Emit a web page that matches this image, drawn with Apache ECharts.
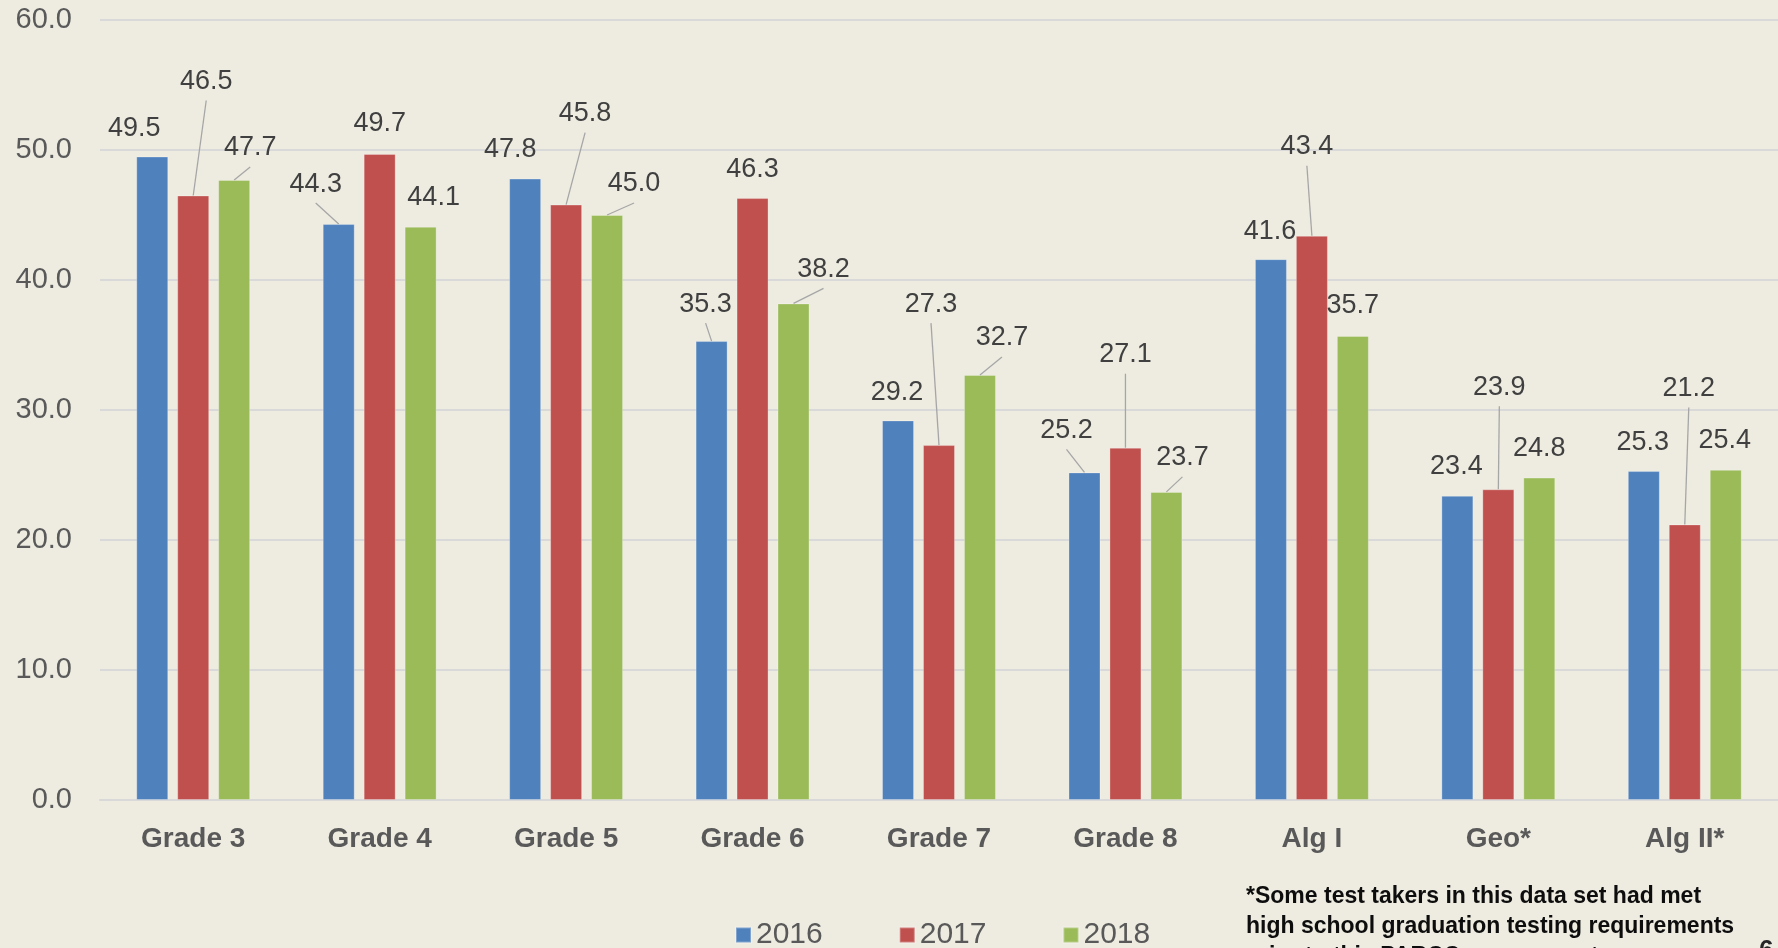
<!DOCTYPE html>
<html>
<head>
<meta charset="utf-8">
<script src="https://cdn.jsdelivr.net/npm/echarts@6/dist/echarts.min.js"></script>
<style>
  html, body { margin: 0; padding: 0; background: #EEECE1; }
  #chart { width: 1778px; height: 948px; }
</style>
</head>
<body>
<div id="chart"></div>
<script>
// ---- data ----
const categories = ['Grade 3', 'Grade 4', 'Grade 5', 'Grade 6', 'Grade 7', 'Grade 8', 'Alg I', 'Geo*', 'Alg II*'];
const seriesNames = ['2016', '2017', '2018'];
const values2016 = [49.5, 44.3, 47.8, 35.3, 29.2, 25.2, 41.6, 23.4, 25.3];
const values2017 = [46.5, 49.7, 45.8, 46.3, 27.3, 27.1, 43.4, 23.9, 21.2];
const values2018 = [47.7, 44.1, 45.0, 38.2, 32.7, 23.7, 35.7, 24.8, 25.4];
const yTicks = [0, 10, 20, 30, 40, 50, 60];
const footnoteLines = [
  '*Some test takers in this data set had met',
  'high school graduation testing requirements',
  'prior to this PARCC assessment.'
];

// ---- styling (label placement, as in the original slide) ----
const colors = ['#4F81BD', '#C0504D', '#9BBB59'];
const BAR_W = 32;
const BAR_GAP = 0.28;
// label centre offset from bar top-centre [dx, dy]
const labelOffsets = [
  [[-18,-28],[-23,-40],[-15,-29],[-6,-37],[-1,-28],[-18,-42],[-1,-28],[-1,-29],[-1,-29]],
  [[13,-114],[0,-30],[19,-91],[0,-29],[-8,-141],[0,-93],[-5,-89],[1,-102],[4,-136]],
  [[16,-32],[13,-29],[27,-31],[30,-34],[22,-37],[16,-34],[0,-30],[0,-29],[-1,-29]]
];
const leaderShown = [
  [false, true, false, true, false, true, false, false, false],
  [true, false, true, false, true, true, true, true, true],
  [true, false, true, true, true, true, false, false, false]
];

const allValues = [values2016, values2017, values2018];
const font = '"Liberation Sans", Arial, sans-serif';

const barSeries = allValues.map((vals, s) => ({
  name: seriesNames[s],
  type: 'bar',
  barWidth: BAR_W,
  barGap: (BAR_GAP * 100) + '%',
  z: 2,
  itemStyle: { color: colors[s], borderColor: 'rgba(255,255,255,0.28)', borderWidth: 1 },
  data: vals,
  label: {
    show: true,
    position: 'top',
    fontFamily: font,
    fontSize: 27,
    color: '#404040',
    formatter: p => p.value.toFixed(1)
  },
  labelLayout: function (p) {
    const off = labelOffsets[s][p.dataIndex];
    return {
      x: p.rect.x + p.rect.width / 2 + off[0],
      y: p.rect.y + off[1],
      align: 'center',
      verticalAlign: 'middle'
    };
  }
}));

// leader lines: from bar top-centre to just under the moved label
const leaderSeries = allValues.map((vals, s) => ({
  type: 'custom',
  silent: true,
  z: 5,
  data: vals.map((v, i) => [i, v]),
  renderItem: function (params, api) {
    const i = api.value(0);
    if (!leaderShown[s][i]) return null;
    const p = api.coord([i, api.value(1)]);
    const bx = p[0] + (s - 1) * BAR_W * (1 + BAR_GAP);
    const off = labelOffsets[s][i];
    return {
      type: 'line',
      shape: { x1: bx, y1: p[1], x2: bx + off[0], y2: p[1] + off[1] + 19 },
      style: { stroke: '#A6A6A6', lineWidth: 1.3 }
    };
  }
}));

const chart = echarts.init(document.getElementById('chart'), null, { renderer: 'canvas' });
chart.setOption({
  backgroundColor: '#EEECE1',
  animation: false,
  grid: { left: 100, right: 0, top: 20, bottom: 148, containLabel: false },
  legend: {
    data: seriesNames,
    left: 730,
    top: 915,
    icon: 'rect',
    itemWidth: 15,
    itemHeight: 15,
    itemGap: 76,
    textStyle: { fontFamily: font, fontSize: 30, color: '#595959' }
  },
  xAxis: {
    type: 'category',
    data: categories,
    axisLine: { show: true, lineStyle: { color: '#D9D9D9', width: 2 } },
    axisTick: { show: false },
    axisLabel: {
      margin: 25,
      fontFamily: font,
      fontWeight: 'bold',
      fontSize: 28,
      color: '#595959'
    }
  },
  yAxis: {
    type: 'value',
    min: yTicks[0],
    max: yTicks[yTicks.length - 1],
    interval: yTicks[1] - yTicks[0],
    axisLine: { show: false },
    axisTick: { show: false },
    splitLine: { lineStyle: { color: '#D9D9D9', width: 2 } },
    axisLabel: {
      margin: 28,
      fontFamily: font,
      fontSize: 29,
      color: '#595959',
      formatter: v => v.toFixed(1)
    }
  },
  graphic: [
    {
      type: 'text',
      left: 1246,
      top: 882,
      style: {
        text: footnoteLines.join('\n'),
        fontFamily: font,
        fontWeight: 'bold',
        fontSize: 23,
        lineHeight: 30,
        fill: '#0D0D0D'
      }
    },
    {
      type: 'text',
      left: 1759,
      top: 938,
      style: {
        text: '6',
        fontFamily: font,
        fontWeight: 'bold',
        fontSize: 26,
        fill: '#262626'
      }
    }
  ],
  series: barSeries.concat(leaderSeries)
});
</script>
</body>
</html>
